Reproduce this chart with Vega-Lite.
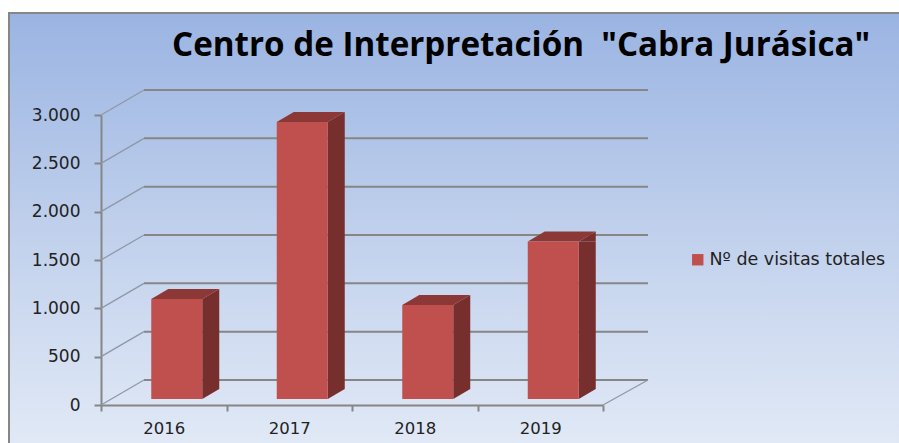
{
"$schema":"https://vega.github.io/schema/vega-lite/v6.json",
"width":892,"height":432,
"autosize":{"type":"none"},
"padding":{"left":9,"top":13,"right":0,"bottom":0},
"background":"#ffffff",
"view":{"stroke":"#868686","strokeWidth":2,"fill":{"gradient":"linear","x1":0,"y1":0,"x2":0,"y2":1,"stops":[{"offset":0,"color":"#9ab4e2"},{"offset":0.5,"color":"#c0d0ec"},{"offset":1,"color":"#e1e9f6"}]}},
"title":{"text":"Centro de Interpretación \u00a0\"Cabra Jurásica\"","font":"Open Sans","fontWeight":"bold","fontSize":33.2,"color":"#000000","anchor":"start","frame":"group","dx":163,"dy":76,"offset":0,"baseline":"alphabetic"},
"datasets":{
"visitas":[
{"year":"2016","visitas":1034,"serie":"Nº de visitas totales"},
{"year":"2017","visitas":2865,"serie":"Nº de visitas totales"},
{"year":"2018","visitas":972,"serie":"Nº de visitas totales"},
{"year":"2019","visitas":1630,"serie":"Nº de visitas totales"}],
"ticks":[{"tick":0},{"tick":500},{"tick":1000},{"tick":1500},{"tick":2000},{"tick":2500},{"tick":3000}]
},
"data":{"name":"visitas"},
"encoding":{
"x":{"field":"year","type":"ordinal","title":null,"scale":{"type":"band","domain":["2016","2017","2018","2019"],"range":[92,594],"paddingInner":0,"paddingOuter":0},
 "axis":{"offset":-40,"tickBand":"extent","labelAngle":0,"domainColor":"#868686","domainWidth":2,"tickColor":"#868686","tickWidth":2,"tickSize":6,"labelFont":"DejaVu Sans","labelFontSize":16.5,"labelColor":"#222222","labelPadding":9,"grid":false}},
"y":{"field":"visitas","type":"quantitative","title":null,"scale":{"domain":[0,3000],"range":[392,102],"nice":false},
 "axis":{"offset":-92,"values":[0,500,1000,1500,2000,2500,3000],"labelExpr":"replace(format(datum.value,','),',','.')","domainColor":"#868686","domainWidth":2,"tickColor":"#868686","tickWidth":2,"tickSize":7,"labelFont":"DejaVu Sans","labelFontSize":17,"labelColor":"#222222","labelPadding":14,"grid":false}}
},
"layer":[
{"data":{"name":"ticks"},
 "mark":{"type":"point","shape":"M43,-25L547,-25","size":4,"filled":false,"stroke":"#868686","strokeWidth":2,"opacity":1},
 "encoding":{"x":{"datum":"2016","type":"ordinal","bandPosition":0},"y":{"field":"tick","type":"quantitative"}}},
{"data":{"name":"ticks"},
 "mark":{"type":"point","shape":"M0,0L43,-25","size":4,"filled":false,"stroke":"#8f98a6","strokeWidth":1.3,"opacity":1},
 "encoding":{"x":{"datum":"2016","type":"ordinal","bandPosition":0},"y":{"field":"tick","type":"quantitative"}}},
{"data":{"values":[{"tick":0}]},
 "mark":{"type":"point","shape":"M502,0L547,-25","size":4,"filled":false,"stroke":"#8f98a6","strokeWidth":1.3,"opacity":1},
 "encoding":{"x":{"datum":"2016","type":"ordinal","bandPosition":0},"y":{"field":"tick","type":"quantitative"}}},
{"mark":{"type":"bar","width":17,"xOffset":47,"yOffset":-6,"y2Offset":-16,"fill":"#772f2d","opacity":1},
 "encoding":{"y2":{"datum":0}}},
{"mark":{"type":"point","shape":"M38.5,-6L55.5,-16L55.5,-6Z","size":4,"filled":true,"fill":"#772f2d","stroke":null,"opacity":1},
 "encoding":{}},
{"mark":{"type":"point","shape":"M38.5,-6L38.5,-16L55.5,-16Z","size":4,"filled":true,"fill":"#772f2d","stroke":null,"opacity":1},
 "encoding":{"y":{"datum":0,"type":"quantitative"}}},
{"mark":{"type":"point","shape":"M-12.5,-6L38.5,-6L55.5,-16L4.5,-16Z","size":4,"filled":true,"fill":"#8c3836","stroke":null,"opacity":1},
 "encoding":{}},
{"mark":{"type":"bar","width":51,"xOffset":13,"yOffset":-6,"y2Offset":-6,"opacity":1},
 "encoding":{"y2":{"datum":0},
  "color":{"field":"serie","type":"nominal","scale":{"range":["#c0504d"]},
   "legend":{"title":null,"orient":"none","legendX":680,"legendY":238,"symbolType":"square","symbolSize":130,"symbolStrokeWidth":0,"labelFont":"DejaVu Sans","labelFontSize":17.5,"labelColor":"#222222","labelOffset":3,"labelLimit":260}}}}
]
}
